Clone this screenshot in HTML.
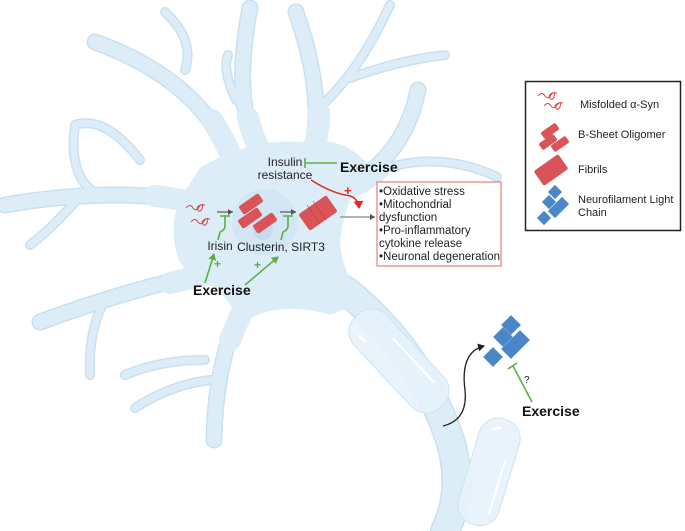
<!DOCTYPE html>
<html><head><meta charset="utf-8"><style>
html,body{margin:0;padding:0;background:#fff;}
svg{display:block;font-family:"Liberation Sans",sans-serif;}
</style></head><body>
<svg width="685" height="531" viewBox="0 0 685 531" xmlns="http://www.w3.org/2000/svg">
<defs>
<marker id="ag" markerWidth="8" markerHeight="8" refX="6" refY="4" orient="auto" markerUnits="userSpaceOnUse"><path d="M0,0 L7,4 L0,8 z" fill="#5db040"/></marker>
<marker id="ar" markerWidth="10" markerHeight="10" refX="7" refY="5" orient="auto" markerUnits="userSpaceOnUse"><path d="M0,0 L8,5 L0,10 z" fill="#e8281e"/></marker>
<marker id="ak" markerWidth="8" markerHeight="8" refX="6" refY="4" orient="auto" markerUnits="userSpaceOnUse"><path d="M0,0 L7,4 L0,8 z" fill="#222"/></marker>
<marker id="agr" markerWidth="6" markerHeight="6" refX="5" refY="3" orient="auto" markerUnits="userSpaceOnUse"><path d="M0,0 L5,3 L0,6 z" fill="#555"/></marker>
</defs>

<g fill="none" stroke="#c9e0f2" stroke-linecap="round" stroke-linejoin="round">
 <g stroke-width="17">
  <path d="M232,160 Q200,80 95,42"/>
  <path d="M258,150 Q232,100 250,8"/>
  <path d="M312,150 Q325,95 296,12"/>
  <path d="M350,185 Q405,155 418,90"/>
  <path d="M215,205 Q120,185 5,205"/>
  <path d="M225,270 Q140,285 40,322"/>
  <path d="M245,300 Q215,360 214,440"/>
  <path d="M345,290 Q420,350 450,440 Q465,490 445,531" stroke-width="30"/>
 </g>
 <g stroke-width="10">
  <path d="M185,70 Q195,40 165,12"/>
  <path d="M236,100 Q222,70 228,55"/>
  <path d="M322,105 Q360,70 390,5"/>
  <path d="M350,78 Q400,60 445,55"/>
  <path d="M380,170 Q440,150 497,177"/>
  <path d="M95,193 Q68,175 75,125 Q105,115 140,160"/>
  <path d="M75,202 Q50,230 30,245"/>
  <path d="M105,300 Q88,330 90,375"/>
  <path d="M205,360 Q160,360 125,375"/>
  <path d="M210,380 Q170,385 135,408"/>
 </g>
</g>
<g fill="none" stroke="#ddedf8" stroke-linecap="round" stroke-linejoin="round">
 <g stroke-width="14">
  <path d="M232,160 Q200,80 95,42"/>
  <path d="M258,150 Q232,100 250,8"/>
  <path d="M312,150 Q325,95 296,12"/>
  <path d="M350,185 Q405,155 418,90"/>
  <path d="M215,205 Q120,185 5,205"/>
  <path d="M225,270 Q140,285 40,322"/>
  <path d="M245,300 Q215,360 214,440"/>
  <path d="M345,290 Q420,350 450,440 Q465,490 445,531" stroke-width="27"/>
 </g>
 <g stroke-width="7">
  <path d="M185,70 Q195,40 165,12"/>
  <path d="M236,100 Q222,70 228,55"/>
  <path d="M322,105 Q360,70 390,5"/>
  <path d="M350,78 Q400,60 445,55"/>
  <path d="M380,170 Q440,150 497,177"/>
  <path d="M95,193 Q68,175 75,125 Q105,115 140,160"/>
  <path d="M75,202 Q50,230 30,245"/>
  <path d="M105,300 Q88,330 90,375"/>
  <path d="M205,360 Q160,360 125,375"/>
  <path d="M210,380 Q170,385 135,408"/>
 </g>
 <g stroke-width="22">
  <path d="M235,165 Q225,140 212,120"/>
  <path d="M262,155 Q252,135 248,118"/>
  <path d="M312,155 Q320,130 319,112"/>
  <path d="M345,190 Q365,182 378,170"/>
  <path d="M205,205 Q175,198 155,196"/>
  <path d="M225,270 Q195,277 170,283"/>
  <path d="M248,300 Q237,322 230,340"/>
 </g>
</g>
<path d="M200,168 Q250,138 300,142 Q345,135 368,165 Q345,200 340,240 Q342,278 368,300 L330,315 Q280,300 242,322 Q228,300 215,287 Q188,280 178,258 Q168,228 180,198 z" fill="#ddedf8" stroke="none"/>
<g transform="translate(399,361) rotate(-43)">
 <rect x="-22" y="-62" width="44" height="124" rx="20" fill="#e6f2fb" fill-opacity="0.9" stroke="#cfe3f3"/>
 <path d="M-12,-45 L-12,-38" stroke="#fff" stroke-width="3" stroke-linecap="round"/>
 <path d="M11,-20 L11,40" stroke="#fff" stroke-width="2" stroke-linecap="round"/>
</g>
<g transform="translate(489,472) rotate(17)">
 <rect x="-21" y="-55" width="42" height="110" rx="20" fill="#e6f2fb" fill-opacity="0.92" stroke="#cfe3f3"/>
 <path d="M-8,-42 L-2,-46" stroke="#fff" stroke-width="3" stroke-linecap="round"/>
 <path d="M12,-15 L12,40" stroke="#fff" stroke-width="2" stroke-linecap="round"/>
</g>

<circle cx="265" cy="222" r="33" fill="#d3e6f4"/>
<circle cx="263" cy="230" r="10" fill="#c2dcf0"/>

<g fill="none" stroke="#d64545" stroke-width="1">
 <path d="M186,208 q4,-5 7,0 q3,4 6,-1 q5,-6 3,2 q-3,5 -5,-1 q2,-4 8,-3"/>
 <path d="M191,222 q4,-5 7,0 q3,4 6,-1 q5,-6 3,2 q-3,5 -5,-1 q2,-4 8,-3"/>
</g>
<line x1="217" y1="212" x2="233" y2="212" stroke="#555" stroke-width="1.2" marker-end="url(#agr)"/>
<line x1="280" y1="212" x2="296" y2="212" stroke="#555" stroke-width="1.2" marker-end="url(#agr)"/>
<g stroke="#5db040" stroke-width="1.6" fill="none">
 <path d="M220,216 L230,216 M225,216 L225,226 Q225,230 220,232 L218,240"/>
 <path d="M283,216 L293,216 M288,216 L288,226 Q288,230 283,232 L281,240"/>
 <line x1="205" y1="283" x2="214" y2="254" marker-end="url(#ag)"/>
 <line x1="245" y1="285" x2="278" y2="257" marker-end="url(#ag)"/>
 <path d="M337,163 L306,163 M305,158 L305,168"/>
 <path d="M532,402 L513,366 M508,369 L517,363"/>
</g>
<text x="214" y="268" fill="#5db040" font-size="12" font-weight="bold">+</text>
<text x="254" y="269" fill="#5db040" font-size="12" font-weight="bold">+</text>

<g fill="#d95358">
 <rect x="-12" y="-5" width="24" height="10" rx="2" transform="translate(251,204) rotate(-35)"/>
 <rect x="-12" y="-5" width="24" height="10" rx="2" transform="translate(250,218) rotate(-35)"/>
 <rect x="-12" y="-5" width="24" height="10" rx="2" transform="translate(265,223) rotate(-35)"/>
 <rect x="-17" y="-10" width="34" height="20" rx="2" transform="translate(318,213) rotate(-35)"/>
</g>
<g stroke="#b83a40" stroke-width="0.6" fill="none">
 <path d="M307,205 L320,224 M313,201 L326,220"/>
</g>

<g font-size="12" fill="#222">
 <text x="285" y="166" text-anchor="middle">Insulin</text>
 <text x="285" y="179" text-anchor="middle">resistance</text>
 <text x="220" y="250" text-anchor="middle">Irisin</text>
 <text x="281" y="251" text-anchor="middle">Clusterin, SIRT3</text>
</g>
<g font-size="14" font-weight="bold" fill="#111">
 <text x="340" y="172">Exercise</text>
 <text x="193" y="295">Exercise</text>
 <text x="522" y="416">Exercise</text>
</g>
<text x="524" y="383" font-size="10" fill="#222">?</text>

<path d="M311,180 Q330,192 345,195 Q358,196 359,208" fill="none" stroke="#e8281e" stroke-width="1.6" marker-end="url(#ar)"/>
<text x="344" y="195" fill="#e8281e" font-size="13" font-weight="bold">+</text>

<line x1="340" y1="217" x2="375" y2="217" stroke="#888" stroke-width="1.3" marker-end="url(#agr)"/>
<rect x="377" y="182" width="124" height="84" fill="#fff" stroke="#e87c7c" stroke-width="1.2"/>
<g font-size="11.5" fill="#222">
 <text x="379" y="195">•Oxidative stress</text>
 <text x="379" y="208">•Mitochondrial</text>
 <text x="379" y="221">dysfunction</text>
 <text x="379" y="234">•Pro-inflammatory</text>
 <text x="379" y="247">cytokine release</text>
 <text x="379" y="260">•Neuronal degeneration</text>
</g>

<g fill="#4a86c8">
 <rect x="-7" y="-7" width="14" height="14" transform="translate(511,325) rotate(45)"/>
 <rect x="-7" y="-7" width="14" height="14" transform="translate(503,337) rotate(45)"/>
 <rect x="-7" y="-7" width="14" height="14" transform="translate(520,340) rotate(45)"/>
 <rect x="-7" y="-7" width="14" height="14" transform="translate(511,349) rotate(45)"/>
 <rect x="-7" y="-7" width="14" height="14" transform="translate(493,357) rotate(45)"/>
</g>
<path d="M443,426 Q468,420 465,390 Q460,352 484,346" fill="none" stroke="#222" stroke-width="1.3" marker-end="url(#ak)"/>

<rect x="525.5" y="81.5" width="155" height="149" fill="#fff" stroke="#222" stroke-width="1.5"/>
<g fill="none" stroke="#d64545" stroke-width="1">
 <path d="M538,96 q4,-5 7,0 q3,4 6,-1 q5,-6 3,2 q-3,5 -5,-1 q2,-4 8,-3"/>
 <path d="M544,106 q4,-5 7,0 q3,4 6,-1 q5,-6 3,2 q-3,5 -5,-1 q2,-4 8,-3"/>
</g>
<g fill="#d95358">
 <rect x="-9" y="-4" width="18" height="8" rx="2" transform="translate(550,131) rotate(-35)"/>
 <rect x="-9" y="-4" width="18" height="8" rx="2" transform="translate(548,142) rotate(-35)"/>
 <rect x="-9" y="-4" width="18" height="8" rx="2" transform="translate(560,144) rotate(-35)"/>
 <rect x="-15" y="-9" width="30" height="18" rx="2" transform="translate(551,170) rotate(-35)"/>
</g>
<g fill="#4a86c8">
 <rect x="-5" y="-5" width="10" height="10" transform="translate(555,192) rotate(45)"/>
 <rect x="-5" y="-5" width="10" height="10" transform="translate(549,202) rotate(45)"/>
 <rect x="-5" y="-5" width="10" height="10" transform="translate(562,204) rotate(45)"/>
 <rect x="-5" y="-5" width="10" height="10" transform="translate(555,211) rotate(45)"/>
 <rect x="-5" y="-5" width="10" height="10" transform="translate(544,218) rotate(45)"/>
</g>
<g font-size="11" fill="#222">
 <text x="580" y="108">Misfolded α-Syn</text>
 <text x="578" y="138">B-Sheet Oligomer</text>
 <text x="578" y="173">Fibrils</text>
 <text x="578" y="203">Neurofilament Light</text>
 <text x="578" y="216">Chain</text>
</g>
</svg>
</body></html>
